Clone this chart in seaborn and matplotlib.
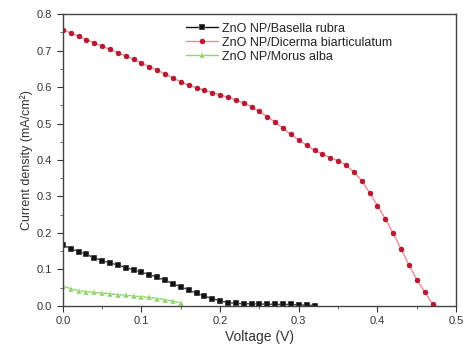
import numpy as np
import pandas as pd
import matplotlib
matplotlib.use("Agg")
import matplotlib.pyplot as plt
import seaborn as sns
from matplotlib.ticker import MultipleLocator

# J-V data (voltage steps of 0.01 V)
red_j = [0.757, 0.748, 0.739, 0.730, 0.721, 0.712, 0.703, 0.694, 0.685, 0.676,
         0.666, 0.656, 0.646, 0.636, 0.625, 0.614, 0.605, 0.598, 0.591, 0.585,
         0.578, 0.572, 0.564, 0.556, 0.546, 0.533, 0.519, 0.503, 0.487, 0.470,
         0.455, 0.440, 0.427, 0.416, 0.406, 0.398, 0.386, 0.367, 0.343, 0.310,
         0.275, 0.238, 0.199, 0.156, 0.112, 0.072, 0.038, 0.005]
black_j = [0.167, 0.157, 0.149, 0.141, 0.132, 0.124, 0.118, 0.112, 0.105, 0.099,
           0.092, 0.086, 0.078, 0.070, 0.061, 0.052, 0.044, 0.034, 0.027, 0.020,
           0.014, 0.009, 0.007, 0.006, 0.006, 0.005, 0.005, 0.004, 0.004, 0.004,
           0.003, 0.002, 0.001]
green_j = [0.055, 0.047, 0.042, 0.039, 0.037, 0.035, 0.033, 0.031, 0.029, 0.027,
           0.025, 0.023, 0.020, 0.017, 0.013, 0.008]

labels = ["ZnO NP/Basella rubra", "ZnO NP/Dicerma biarticulatum", "ZnO NP/Morus alba"]

frames = []
for name, j in zip(labels, [black_j, red_j, green_j]):
    v = np.round(np.arange(len(j)) * 0.01, 2)
    frames.append(pd.DataFrame({"Voltage": v, "J": j, "Sample": name}))
df = pd.concat(frames, ignore_index=True)

sns.set_style("ticks")
plt.rcParams["font.family"] = ["Liberation Sans", "DejaVu Sans"]

fig = plt.figure(figsize=(4.65, 3.52), dpi=100)
ax = fig.add_axes([0.135, 0.131, 0.846, 0.829])

palette = {labels[0]: "#111111", labels[1]: "#e8203a", labels[2]: "#8fd46a"}
markers = {labels[0]: "s", labels[1]: "o", labels[2]: "^"}
sns.lineplot(data=df, x="Voltage", y="J", hue="Sample", style="Sample",
             palette=palette, markers=markers, dashes=False, ax=ax,
             markersize=4.2, linewidth=1.0, markeredgewidth=0.3,
             hue_order=labels, style_order=labels)

# darker, smaller dots on the red curve with a lighter connecting line
for line in ax.get_lines():
    if line.get_color() == "#e8203a":
        line.set_markeredgecolor("#8a1020")
        line.set_color("#f28a98")
        line.set_markerfacecolor("#c01530")
        line.set_markersize(3.6)

ax.set_xlim(0, 0.5)
ax.set_ylim(0, 0.8)
ax.xaxis.set_major_locator(MultipleLocator(0.1))
ax.xaxis.set_minor_locator(MultipleLocator(0.05))
ax.yaxis.set_major_locator(MultipleLocator(0.1))
ax.yaxis.set_minor_locator(MultipleLocator(0.05))
ax.tick_params(which="major", length=4, labelsize=8, colors="#333333")
ax.tick_params(which="minor", length=2, colors="#555555")
for s in ax.spines.values():
    s.set_color("#444444")
    s.set_linewidth(1.0)

ax.set_xlabel("Voltage (V)", fontsize=10, color="#333333", labelpad=3)
ax.set_ylabel("Current density (mA/cm\u00b2)", fontsize=9, color="#333333", labelpad=3)

leg = ax.legend(loc="upper left", bbox_to_anchor=(0.29, 1.0), frameon=False,
                fontsize=9, handlelength=2.6, handletextpad=0.3,
                labelspacing=0.15, borderaxespad=0.3)
for t in leg.get_texts():
    t.set_color("#222222")

fig.savefig("out.png", dpi=100)
